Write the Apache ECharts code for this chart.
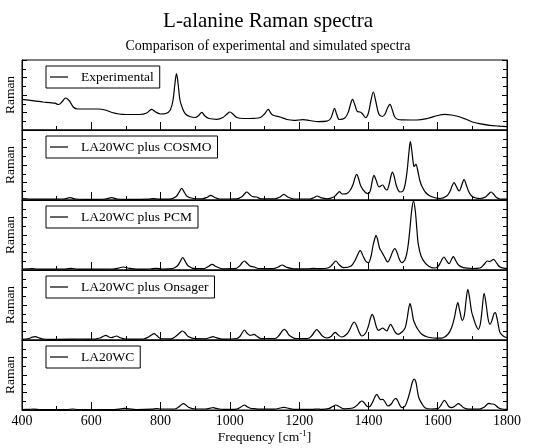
<!DOCTYPE html>
<html>
<head>
<meta charset="utf-8">
<script src="https://cdn.jsdelivr.net/npm/echarts@6/dist/echarts.min.js"></script>
<style>
html,body{margin:0;padding:0;background:#fff;}
#chart{width:536px;height:448px;}
</style>
</head>
<body>
<div id="chart"></div>
<script>
const seriesNames = ['Experimental', 'LA20WC plus COSMO', 'LA20WC plus PCM', 'LA20WC plus Onsager', 'LA20WC'];
const xTicks = [400, 600, 800, 1000, 1200, 1400, 1600, 1800];

const experimental = [[400,30.7],[420,29.8],[440,28.8],[460,28],[480,27.3],[495,26.8],[505,25.5],[515,28],[526,32],[537,29],[548,23],[560,21],[580,21],[600,21],[620,21],[640,20],[660,17.5],[680,16],[700,15.5],[740,15.5],[760,17],[774,20.7],[786,18],[800,16],[815,16.5],[828,20],[836,30],[841,45],[846,56.3],[851,45],[856,30],[864,21],[872,16],[884,13.5],[900,12.5],[910,14.5],[919,17.7],[928,14],[940,11.5],[962,10.7],[980,12.5],[992,16],[1000,18],[1010,15.5],[1020,12.5],[1040,11.5],[1070,11.7],[1088,12.5],[1100,16],[1111,20.7],[1118,17],[1125,14.7],[1145,13],[1165,10.5],[1185,9.7],[1200,10],[1211,10.3],[1230,9.5],[1255,8.3],[1280,8.8],[1290,11],[1296,16],[1302,21.7],[1308,16],[1316,10.5],[1332,12],[1342,18],[1348,25.5],[1354,30.7],[1361,25],[1368,18.5],[1376,18],[1382,16.5],[1392,12.3],[1400,17],[1407,29],[1414,38],[1421,29],[1430,16],[1440,13.5],[1448,16],[1455,22],[1462,25.7],[1469,20],[1476,13],[1486,10.5],[1500,10.2],[1540,10],[1570,11.5],[1600,14.5],[1620,15.7],[1640,15],[1660,13.5],[1680,11],[1700,8],[1720,6.3],[1750,4.7],[1780,3.8],[1800,3.3]];

const cosmo = [[400,1.3],[420,1],[440,0.8],[520,1],[539,2.3],[555,1],[600,0.6],[640,1],[659,2.3],[675,1],[720,0.6],[765,0.9],[779,1.3],[795,0.8],[830,1.2],[845,3.5],[853,7.5],[861,11.7],[869,7.5],[877,3.5],[895,1.5],[920,1.2],[935,2.8],[945,4.7],[955,2.8],[970,1],[1020,1.2],[1035,3.5],[1042,6],[1049,8],[1056,6],[1065,3.5],[1077,3],[1090,1.2],[1130,1.2],[1145,3],[1156,5.7],[1167,3],[1185,1],[1230,1],[1242,2.3],[1252,4],[1262,2.3],[1280,1.2],[1300,3],[1309,6],[1316,8.3],[1325,6],[1337,6.3],[1348,10],[1356,16],[1361,22],[1366,25.7],[1371,22],[1378,14],[1390,8],[1400,6.3],[1406,10],[1411,19],[1416,24.7],[1422,20],[1431,13],[1441,15],[1447,12],[1453,10],[1460,16],[1465,24],[1469,28],[1474,24],[1481,14],[1491,8],[1500,9],[1506,15.7],[1512,30],[1517,48],[1521,58.3],[1525,50],[1529,38],[1532,33.5],[1537,35.7],[1542,30],[1548,20],[1554,14],[1565,7.5],[1578,4],[1595,2],[1607,1.5],[1626,4],[1636,9],[1642,14.5],[1647,17.3],[1653,14],[1662,9],[1670,15.5],[1676,20.7],[1682,15.5],[1690,8],[1698,4],[1710,2],[1722,1.5],[1738,3],[1747,6],[1754,8],[1761,6],[1770,2.5],[1780,1],[1800,0.8]];

const pcm = [[400,1],[415,1.1],[428,1.3],[445,0.8],[525,0.9],[543,1.7],[560,0.8],[660,1],[680,2],[692,3],[705,2],[730,0.8],[770,1],[787,1.7],[805,1],[835,1.5],[848,4],[856,8],[864,12.3],[872,8],[880,4],[900,1.3],[925,1.3],[938,3.5],[949,5.7],[960,3.5],[980,1.2],[1015,1.3],[1028,4],[1035,7],[1042,9],[1049,7],[1058,4],[1070,3],[1085,1.3],[1125,1.3],[1140,3],[1151,5],[1162,3],[1185,1.2],[1225,1.2],[1241,1.7],[1260,1.3],[1285,2.3],[1296,5.5],[1306,9],[1315,5.5],[1328,2.3],[1350,4],[1362,10],[1370,16],[1376,19.7],[1382,16],[1392,9],[1400,7.3],[1407,13],[1413,24],[1418,31],[1422,34.7],[1426,31],[1432,22],[1438,18.3],[1445,14],[1456,8],[1464,13],[1470,18.5],[1476,21.3],[1482,18],[1489,11],[1496,7.3],[1505,10],[1511,17],[1515,25.7],[1520,42],[1525,60],[1530,69],[1535,60],[1540,40],[1544,25.7],[1552,14],[1563,7.3],[1575,3.5],[1590,2],[1600,3],[1608,7.5],[1613,11],[1618,13],[1624,10],[1633,6.3],[1639,10],[1645,13.3],[1651,10],[1660,5],[1674,2.3],[1700,1.5],[1722,2],[1735,6],[1743,9],[1750,8.5],[1756,9.5],[1761,10.7],[1768,8],[1775,4.5],[1780,3],[1790,1.8],[1800,1.3]];

const onsager = [[400,0.7],[420,1.5],[430,2.8],[438,3.3],[446,2.5],[460,1],[480,0.6],[540,0.8],[560,1],[600,0.8],[625,2],[635,3.8],[642,4.7],[651,3],[658,2.3],[666,3.3],[673,4],[682,2.5],[700,0.8],[750,1],[765,3],[774,5],[781,6.3],[789,4.5],[800,1.5],[830,1.2],[845,4],[855,7],[863,9],[871,7],[880,3.5],[900,1.3],[930,1.2],[943,2.5],[952,3.3],[960,2.3],[980,0.9],[1020,1.5],[1030,4],[1036,7.5],[1042,10],[1049,7],[1058,4.7],[1064,5],[1070,5.7],[1077,4],[1090,1.5],[1130,1.5],[1143,5],[1150,8.5],[1157,10.7],[1164,8.5],[1172,4.5],[1190,1.5],[1225,1.5],[1237,4.5],[1244,8],[1251,10.3],[1258,8],[1267,4],[1280,2],[1292,3.5],[1298,6],[1304,7.7],[1311,5.5],[1323,3],[1338,6],[1347,11],[1353,15.5],[1359,18],[1365,15],[1373,8],[1381,4],[1392,7],[1400,14],[1406,22],[1411,25.7],[1416,22],[1423,13],[1429,9.7],[1436,11],[1441,12],[1447,10.5],[1453,9],[1459,13],[1464,15.7],[1470,12.5],[1478,7.5],[1486,5.7],[1497,8],[1506,12.3],[1512,22],[1516,31],[1520,36.3],[1525,30],[1530,20],[1535,15.7],[1542,11],[1554,5.7],[1570,3],[1587,2],[1605,1.8],[1616,2.3],[1630,6],[1640,12.3],[1648,22],[1653,31],[1658,37.3],[1663,30],[1671,19.7],[1677,25],[1682,40],[1687,50.7],[1692,42],[1698,28],[1703,22.3],[1710,15],[1717,10.7],[1723,16],[1728,30],[1734,46.7],[1740,35],[1746,20],[1751,15.7],[1757,20],[1762,26],[1766,27.3],[1771,22],[1776,13],[1780,7.3],[1790,3.8],[1800,2.3]];

const la20wc = [[400,0.5],[420,0.7],[435,0.8],[450,0.5],[530,0.5],[546,1],[560,0.5],[670,0.6],[685,1.2],[697,1.7],[710,1.1],[730,0.5],[775,0.8],[789,1.5],[800,1],[840,1],[852,3],[859,5],[866,6.3],[873,5],[882,2.5],[900,1],[930,1],[943,1.8],[952,2.3],[961,1.6],[980,0.6],[1020,0.9],[1032,3],[1042,5],[1051,3],[1062,1.5],[1070,1.3],[1085,0.8],[1130,0.8],[1145,2],[1156,2.7],[1166,2],[1185,0.6],[1240,0.6],[1252,1],[1265,0.6],[1285,1.3],[1297,3.5],[1306,5],[1315,3.5],[1330,1.2],[1355,2],[1368,5],[1376,8],[1381,9],[1387,7.5],[1395,4],[1402,3],[1410,6.5],[1418,12.5],[1424,15.7],[1430,12.5],[1435,10.3],[1441,10.7],[1448,8],[1456,4],[1466,6],[1473,10],[1479,11.7],[1485,9],[1491,4.5],[1497,2.3],[1505,3.5],[1515,12.3],[1521,20],[1527,28],[1532,31],[1537,28],[1542,18],[1546,11.7],[1555,6],[1563,2.3],[1580,1],[1600,1.3],[1608,4],[1614,7.5],[1619,9.7],[1625,7.5],[1632,3.5],[1640,2.3],[1650,4],[1656,5.8],[1660,6.3],[1666,5],[1675,2.3],[1690,0.8],[1720,0.8],[1735,3],[1742,5.5],[1748,6.7],[1754,6],[1760,6],[1766,5],[1775,2.3],[1785,1],[1800,0.6]];

const allData = [experimental, cosmo, pcm, onsager, la20wc];

const FONT = '"Liberation Serif", "Times New Roman", serif';
const panelTops = [60, 130, 200, 270, 340];
const panelH = 70;
const n = allData.length;

const grids = [], xAxes = [], yAxes = [], series = [], legends = [];
for (let i = 0; i < n; i++) {
  const last = i === n - 1;
  grids.push({left: 22, right: 29, top: panelTops[i], height: panelH,
    outerBoundsMode: 'none', containLabel: false,
    show: true, borderColor: '#000', borderWidth: 1, backgroundColor: 'transparent'});
  xAxes.push({
    type: 'value', gridIndex: i, min: xTicks[0], max: xTicks[xTicks.length - 1], interval: 200,
    axisLine: {show: true, onZero: false, lineStyle: {color: '#000', width: 1}},
    axisTick: {show: true, inside: true, length: 8, lineStyle: {color: '#000', width: 1}},
    minorTick: {show: true, splitNumber: 2, length: 4, lineStyle: {color: '#000', width: 1}},
    splitLine: {show: false},
    axisLabel: {show: last, color: '#000', fontFamily: FONT, fontSize: 14, margin: 4,
      showMinLabel: true, showMaxLabel: true, formatter: function (v) { return String(v); }},
    name: last ? 'Frequency [cm{sup|-1}]' : '',
    nameLocation: 'middle', nameGap: 19,
    nameTextStyle: {color: '#000', fontFamily: FONT, fontSize: 13.5,
      rich: {sup: {fontSize: 9, fontFamily: FONT, color: '#000', padding: [0, 0, 7, 0]}}}
  });
  const yCommon = {
    type: 'value', gridIndex: i, min: 0, max: 70, interval: 17.5,
    axisLine: {show: true, lineStyle: {color: '#000', width: 1}},
    axisTick: {show: true, inside: true, length: 5, lineStyle: {color: '#000', width: 1}},
    minorTick: {show: true, splitNumber: 2, length: 4, lineStyle: {color: '#000', width: 1}},
    splitLine: {show: false},
    axisLabel: {show: false}
  };
  yAxes.push(Object.assign({}, yCommon, {position: 'left', name: 'Raman', nameLocation: 'middle',
    nameGap: 5, nameRotate: 90,
    nameTextStyle: {color: '#000', fontFamily: FONT, fontSize: 13.5}}));
  series.push({
    type: 'line', name: seriesNames[i], xAxisIndex: i, yAxisIndex: i,
    data: allData[i], showSymbol: false, symbol: 'none', smooth: 0.35,
    lineStyle: {color: '#000', width: 1.2}, itemStyle: {color: '#000'}, silent: true
  });
  legends.push({
    data: [seriesNames[i]], left: 46, top: panelTops[i] + 6, orient: 'horizontal',
    icon: 'rect', itemWidth: 18, itemHeight: 1.2,
    backgroundColor: '#fff', borderColor: '#000', borderWidth: 1, borderRadius: 0,
    padding: [4, 6, 4, 4], selectedMode: false,
    itemStyle: {color: '#000', borderWidth: 0},
    textStyle: {color: '#000', fontFamily: FONT, fontSize: 13.5, padding: [0, 0, 0, 8], lineHeight: 14}
  });
}
for (let i = 0; i < n; i++) {
  yAxes.push({
    type: 'value', gridIndex: i, min: 0, max: 70, interval: 17.5, position: 'right',
    axisLine: {show: true, lineStyle: {color: '#000', width: 1}},
    axisTick: {show: true, inside: true, length: 5, lineStyle: {color: '#000', width: 1}},
    minorTick: {show: true, splitNumber: 2, length: 4, lineStyle: {color: '#000', width: 1}},
    splitLine: {show: false}, axisLabel: {show: false}
  });
}

const chart = echarts.init(document.getElementById('chart'), null, {renderer: 'canvas'});
chart.setOption({
  animation: false,
  backgroundColor: '#fff',
  title: [
    {text: 'L-alanine Raman spectra', left: 'center', top: 6,
      textStyle: {color: '#000', fontFamily: FONT, fontSize: 21, fontWeight: 'normal'}},
    {text: 'Comparison of experimental and simulated spectra', left: 'center', top: 34,
      textStyle: {color: '#000', fontFamily: FONT, fontSize: 14, fontWeight: 'normal'}}
  ],
  legend: legends,
  grid: grids,
  xAxis: xAxes,
  yAxis: yAxes,
  series: series
});
</script>
</body>
</html>
